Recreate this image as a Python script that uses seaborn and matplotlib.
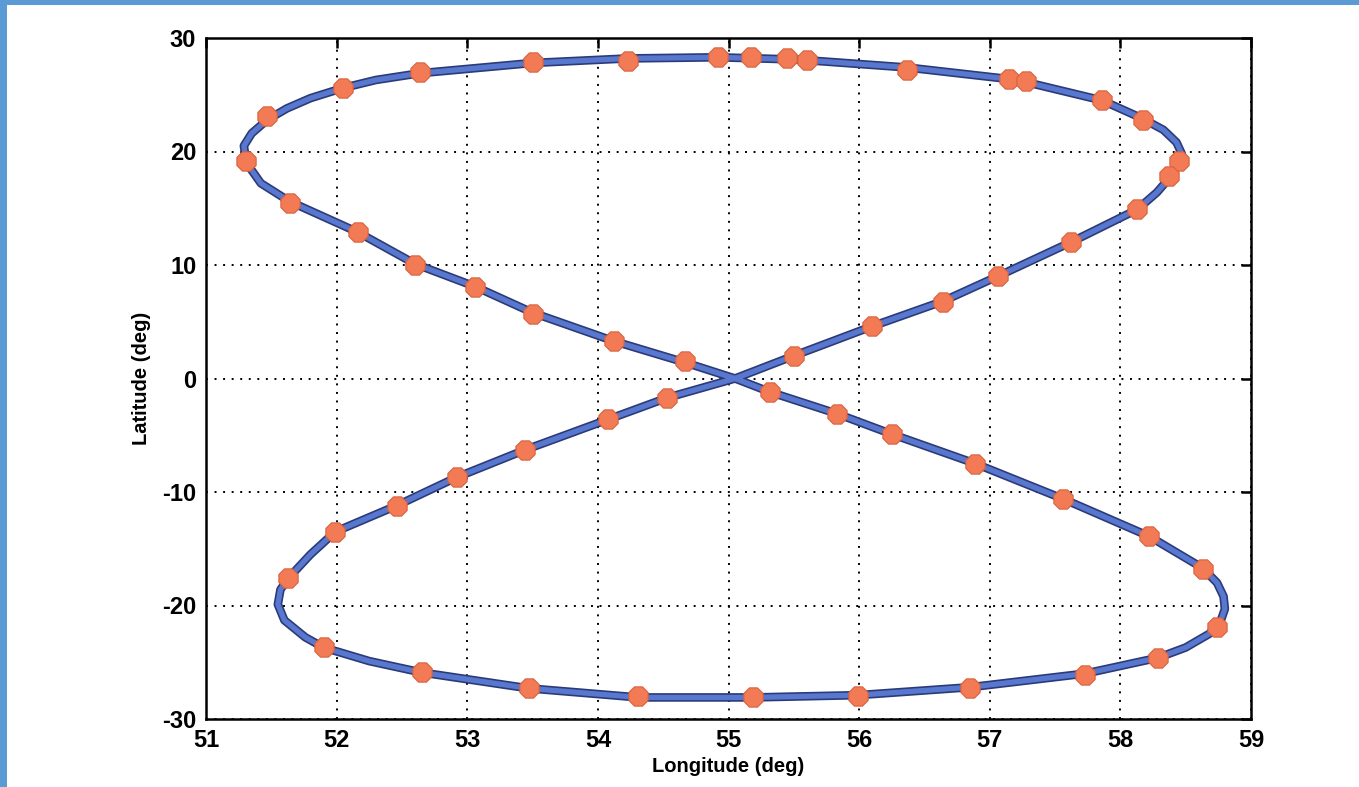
import numpy as np
import pandas as pd
import matplotlib
matplotlib.use("Agg")
import matplotlib.pyplot as plt
import seaborn as sns
from matplotlib.patches import Rectangle

# ---- data ----
track_lon = [55.05, 55.50, 56.10, 56.64, 57.06, 57.62, 58.13, 58.28, 58.37, 58.44,
             58.47, 58.43, 58.33, 58.17, 57.86, 57.21, 56.37, 55.53, 54.92, 54.23,
             53.50, 52.64, 52.30, 52.05, 51.80, 51.62, 51.47, 51.35, 51.29, 51.31,
             51.42, 51.64, 52.16, 52.60, 53.06, 53.50, 54.12, 54.67, 55.05, 55.32,
             55.83, 56.25, 56.89, 57.56, 58.22, 58.63, 58.74, 58.79, 58.80, 58.77,
             58.68, 58.50, 58.29, 57.73, 56.85, 55.99, 55.19, 54.31, 53.47, 52.65,
             52.25, 51.90, 51.76, 51.60, 51.55, 51.57, 51.63, 51.80, 51.99, 52.46,
             52.92, 53.44, 54.08, 54.53, 55.05]
track_lat = [0.0, 2.0, 4.6, 6.8, 9.0, 12.0, 14.9, 16.4, 17.6, 18.8,
             19.8, 20.8, 21.9, 22.9, 24.5, 26.3, 27.4, 28.1, 28.3, 28.2,
             27.8, 26.9, 26.3, 25.6, 24.7, 23.8, 22.8, 21.6, 20.5, 19.0,
             17.2, 15.6, 12.9, 10.1, 8.1, 5.8, 3.3, 1.4, 0.0, -1.2,
             -3.1, -4.9, -7.5, -10.6, -13.9, -16.7, -18.0, -19.2, -20.3, -21.3,
             -22.5, -23.7, -24.6, -26.0, -27.2, -27.9, -28.1, -28.1, -27.3, -25.9,
             -24.9, -23.7, -22.8, -21.3, -19.9, -18.6, -17.6, -15.5, -13.5, -11.2,
             -8.7, -6.3, -3.6, -1.7, 0.0]

marker_lon = [51.47, 51.31, 51.64, 52.16, 52.05, 52.64, 53.50, 54.23, 54.92, 55.17,
              55.45, 55.60, 56.37, 57.15, 57.28, 57.86, 58.17, 58.45, 58.37, 58.13,
              57.62, 57.06, 56.64, 56.10, 55.50, 55.32, 55.83, 56.25, 56.89, 57.56,
              58.22, 58.63, 58.74, 58.29, 57.73, 56.85, 55.99, 55.19, 54.31, 53.47,
              52.65, 51.90, 51.63, 51.99, 52.46, 52.92, 53.44, 54.08, 54.53, 52.60,
              53.06, 53.50, 54.12, 54.67]
marker_lat = [23.1, 19.2, 15.5, 12.9, 25.6, 27.0, 27.9, 28.0, 28.3, 28.3,
              28.2, 28.1, 27.2, 26.4, 26.2, 24.5, 22.8, 19.2, 17.8, 14.9,
              12.0, 9.0, 6.7, 4.6, 2.0, -1.2, -3.1, -4.9, -7.5, -10.6,
              -13.9, -16.8, -21.9, -24.6, -26.1, -27.3, -28.0, -28.1, -28.0, -27.3,
              -25.9, -23.7, -17.6, -13.5, -11.2, -8.7, -6.3, -3.6, -1.7, 10.0,
              8.1, 5.7, 3.3, 1.5]

x_ticks = [51, 52, 53, 54, 55, 56, 57, 58, 59]
y_ticks = [-30, -20, -10, 0, 10, 20, 30]
x_label = "Longitude (deg)"
y_label = "Latitude (deg)"

# ---- drawing ----
sns.set_theme(style="white")
plt.rcParams['font.family'] = ['Liberation Sans', 'DejaVu Sans']
plt.rcParams['font.weight'] = 'bold'

W, H = 1359, 787
fig = plt.figure(figsize=(W / 100, H / 100), dpi=100)
fig.patch.set_facecolor("white")
ax = fig.add_axes([206 / W, 1 - 719 / H, (1251 - 206) / W, (719 - 38) / H])
ax.set_facecolor("white")

track = pd.DataFrame({"lon": track_lon, "lat": track_lat})
marks = pd.DataFrame({"lon": marker_lon, "lat": marker_lat})

sns.lineplot(data=track, x="lon", y="lat", sort=False, estimator=None,
             color="#2C3B78", linewidth=6.2, ax=ax, zorder=3)
sns.lineplot(data=track, x="lon", y="lat", sort=False, estimator=None,
             color="#5878CF", linewidth=3.8, ax=ax, zorder=4)
for line in ax.get_lines():
    line.set_solid_joinstyle("round")
    line.set_solid_capstyle("round")
sns.scatterplot(data=marks, x="lon", y="lat", marker="8", s=225,
                color="#F27A55", edgecolor="#D9613D", linewidth=0.8,
                ax=ax, zorder=5)

ax.set_xlim(x_ticks[0], x_ticks[-1])
ax.set_ylim(y_ticks[0], y_ticks[-1])
ax.set_xticks(x_ticks)
ax.set_yticks(y_ticks)
ax.set_xticklabels([str(t) for t in x_ticks])
ax.set_yticklabels([str(t) for t in y_ticks])

ax.grid(True, color="black", linestyle=(0, (1, 3.4)), linewidth=1.4)
ax.set_axisbelow(True)
for s in ax.spines.values():
    s.set_visible(True)
    s.set_color("black")
    s.set_linewidth(1.8)

ax.tick_params(direction="in", length=7, width=1.8, top=True, right=True,
               labelsize=17, pad=7, colors="black")
for lbl in ax.get_xticklabels() + ax.get_yticklabels():
    lbl.set_fontweight("bold")

ax.set_xlabel(x_label, fontsize=14.5, fontweight="bold", labelpad=4, color="black")
ax.set_ylabel(y_label, fontsize=14.5, fontweight="bold", labelpad=8, color="black")

# blue frame of the original picture
blue = "#5B9BD5"
fig.patches.append(Rectangle((0, 0), 7 / W, 1, transform=fig.transFigure,
                             facecolor=blue, edgecolor="none", zorder=10))
fig.patches.append(Rectangle((0, 1 - 5 / H), 1, 5 / H, transform=fig.transFigure,
                             facecolor=blue, edgecolor="none", zorder=10))

fig.savefig("out.png", dpi=100)
